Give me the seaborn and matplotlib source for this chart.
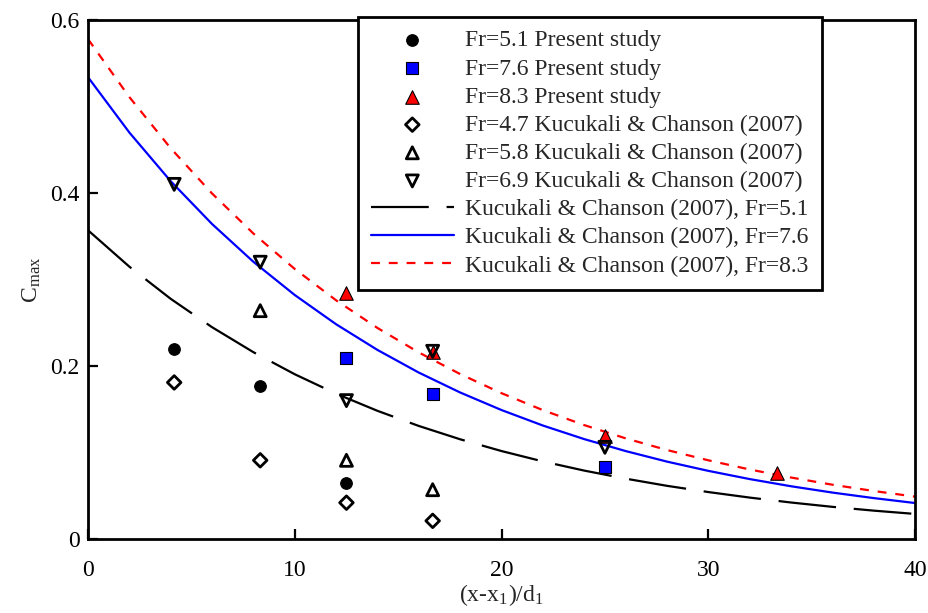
import numpy as np
import pandas as pd
import matplotlib
matplotlib.use("Agg")
import matplotlib.pyplot as plt
import seaborn as sns

# ---- data ----
x_p51 = [4.17, 8.33, 12.5]
y_p51 = [0.220, 0.177, 0.065]
x_p76 = [12.5, 16.67, 25.0]
y_p76 = [0.209, 0.168, 0.083]
x_p83 = [12.5, 16.67, 25.0, 33.33]
y_p83 = [0.284, 0.216, 0.119, 0.076]
x_k47 = [4.17, 8.33, 12.5, 16.67]
y_k47 = [0.181, 0.091, 0.042, 0.021]
x_k58 = [8.33, 12.5, 16.67]
y_k58 = [0.264, 0.091, 0.057]
x_k69 = [4.17, 8.33, 12.5, 16.67, 25.0]
y_k69 = [0.410, 0.320, 0.160, 0.217, 0.106]

x_curve = [0, 2, 4, 6, 8, 10, 12, 14, 16, 18, 20, 22, 24, 26, 28, 30, 32, 34, 36, 38, 40]
c_51 = [0.357, 0.3149, 0.2777, 0.2449, 0.2160, 0.1905, 0.1680, 0.1482, 0.1307, 0.1153,
        0.1017, 0.0897, 0.0791, 0.0698, 0.0615, 0.0543, 0.0479, 0.0422, 0.0372, 0.0328, 0.0290]
c_76 = [0.534, 0.4700, 0.4137, 0.3642, 0.3205, 0.2821, 0.2483, 0.2186, 0.1924, 0.1694,
        0.1491, 0.1312, 0.1155, 0.1017, 0.0895, 0.0788, 0.0693, 0.0610, 0.0537, 0.0473, 0.0416]
c_83 = [0.578, 0.5110, 0.4518, 0.3995, 0.3532, 0.3122, 0.2760, 0.2440, 0.2157, 0.1907,
        0.1686, 0.1490, 0.1317, 0.1164, 0.1029, 0.0910, 0.0804, 0.0711, 0.0628, 0.0555, 0.0490]

x_ticks = [0, 10, 20, 30, 40]
y_ticks = [0, 0.2, 0.4, 0.6]
y_tick_labels = ["0", "0.2", "0.4", "0.6"]

lab_p51 = "Fr=5.1 Present study"
lab_p76 = "Fr=7.6 Present study"
lab_p83 = "Fr=8.3 Present study"
lab_k47 = "Fr=4.7 Kucukali & Chanson (2007)"
lab_k58 = "Fr=5.8 Kucukali & Chanson (2007)"
lab_k69 = "Fr=6.9 Kucukali & Chanson (2007)"
lab_c51 = "Kucukali & Chanson (2007), Fr=5.1"
lab_c76 = "Kucukali & Chanson (2007), Fr=7.6"
lab_c83 = "Kucukali & Chanson (2007), Fr=8.3"

sns.set_style("ticks")
plt.rcParams['font.family'] = ['Liberation Serif', 'DejaVu Serif']
plt.rcParams['mathtext.fontset'] = 'stix'

FS = 17

fig = plt.figure(figsize=(9.29, 6.13), dpi=100)
ax = fig.add_axes([0.0947, 0.1207, 0.8903, 0.8466])

curves = pd.DataFrame({"x": x_curve, "c51": c_51, "c76": c_76, "c83": c_83})

sns.lineplot(data=curves, x="x", y="c51", ax=ax, color="black", lw=1.6,
             linestyle=(0, (26, 8)), label=lab_c51, zorder=2)
sns.lineplot(data=curves, x="x", y="c76", ax=ax, color="#0000ff", lw=1.6,
             linestyle="-", label=lab_c76, zorder=2)
sns.lineplot(data=curves, x="x", y="c83", ax=ax, color="#ff0000", lw=1.6,
             linestyle=(0, (4, 4)), label=lab_c83, zorder=2)

def pts(xs, ys, marker, face, s, lw, label):
    sns.scatterplot(x=xs, y=ys, ax=ax, marker=marker, color=face if face != "none" else "black",
                    edgecolor="black", s=s, linewidth=lw, label=label, zorder=3)
    coll = ax.collections[-1]
    if face == "none":
        coll.set_facecolor("none")
        coll.set_edgecolor("black")
    return coll

pts(x_p51, y_p51, "o", "black", 70, 0.8, lab_p51)
pts(x_p76, y_p76, "s", "#0000ff", 85, 0.8, lab_p76)
pts(x_p83, y_p83, "^", "#ff0000", 95, 0.8, lab_p83)
pts(x_k47, y_k47, "D", "none", 48, 2.0, lab_k47)
pts(x_k58, y_k58, "^", "none", 75, 2.0, lab_k58)
pts(x_k69, y_k69, "v", "none", 75, 2.0, lab_k69)

ax.set_xlim(0, 40)
ax.set_ylim(0, 0.6)
ax.set_xticks(x_ticks)
ax.set_xticklabels([str(t) for t in x_ticks])
ax.set_yticks(y_ticks)
ax.set_yticklabels(y_tick_labels)
ax.tick_params(axis="both", direction="in", length=7, width=1.6, labelsize=FS, colors="black")
ax.tick_params(axis="x", pad=15)
ax.tick_params(axis="y", pad=6)
for sp in ax.spines.values():
    sp.set_visible(True)
    sp.set_linewidth(2.0)
    sp.set_color("black")

ax.set_xlabel(r"(x-x$_{\mathregular{1}}$)/d$_{\mathregular{1}}$", fontsize=FS, labelpad=1)
ax.set_ylabel(r"C$_{\mathregular{max}}$", fontsize=FS, labelpad=5)

handles, labels = ax.get_legend_handles_labels()
order = [lab_p51, lab_p76, lab_p83, lab_k47, lab_k58, lab_k69, lab_c51, lab_c76, lab_c83]
hmap = dict(zip(labels, handles))
leg = ax.legend([hmap[l] for l in order], order, loc="upper left",
                bbox_to_anchor=(0.3265, 1.006), fontsize=FS, frameon=True,
                fancybox=False, edgecolor="black", framealpha=1.0,
                handlelength=3.5, handletextpad=0.5, labelspacing=0.28,
                borderpad=0.55, borderaxespad=0.0)
leg.get_frame().set_linewidth(2.0)
leg.set_zorder(5)

fig.savefig("out.png", dpi=100)
